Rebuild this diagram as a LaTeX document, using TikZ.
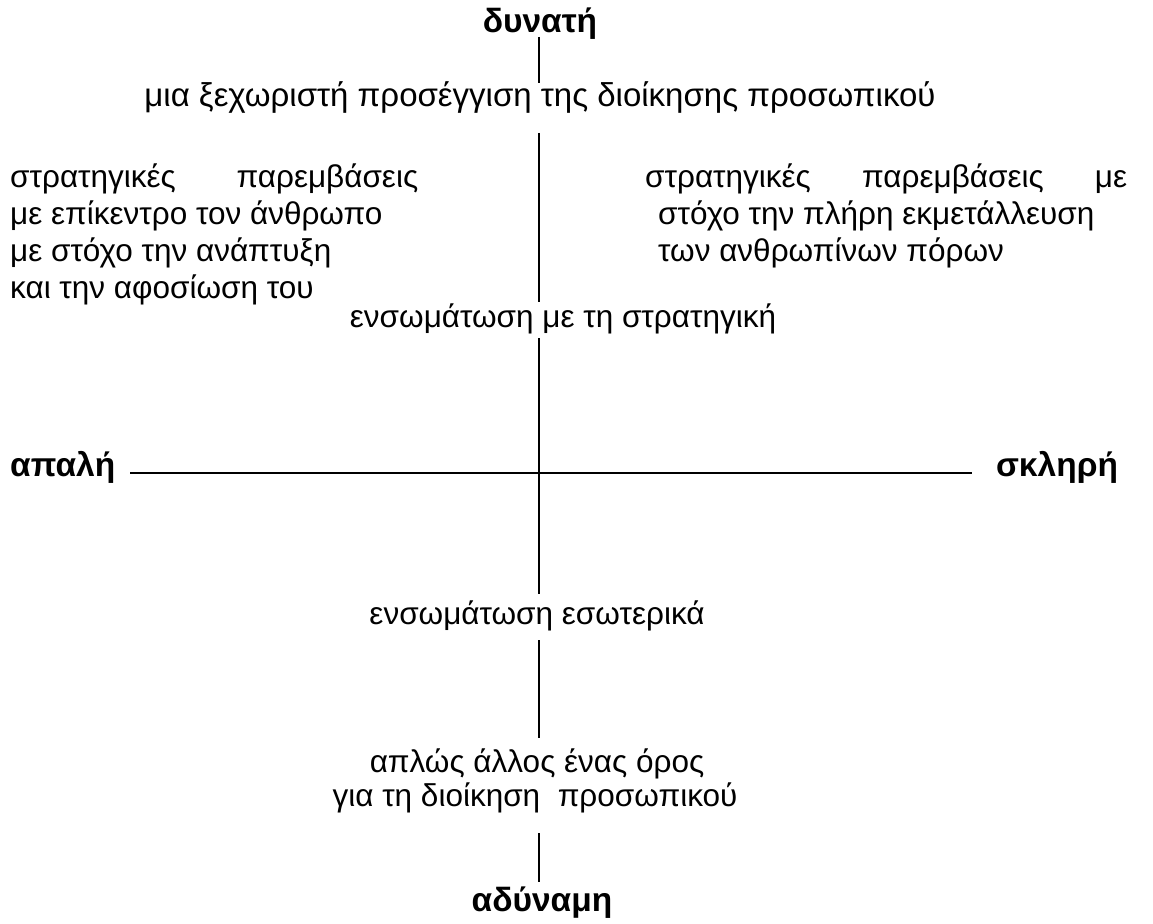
\documentclass[tikz,border=0pt]{standalone}
\usepackage{fontspec}
\setmainfont{Liberation Sans}
\begin{document}
\begin{tikzpicture}[x=1pt,y=-1pt,
  txt/.style={inner sep=0pt,font=\fontsize{31.5}{38}\selectfont},
  big/.style={inner sep=0pt,font=\fontsize{33}{38}\selectfont},
  bold/.style={inner sep=0pt,font=\fontsize{33.5}{38}\selectfont\bfseries},
  axis/.style={line width=1.6pt,black}]
\useasboundingbox (0,0) rectangle (1153,923);
% labels
\node[bold,anchor=base] (dyn) at (540,33) {δυνατή};
\node[big,anchor=base] (mia) at (540,107) {μια ξεχωριστή προσέγγιση της διοίκησης προσωπικού};
\node[txt,anchor=base] (strat) at (563,327) {ενσωμάτωση με τη στρατηγική};
\node[txt,anchor=base] (eso) at (537,624) {ενσωμάτωση εσωτερικά};
\node[txt,anchor=base] (apl1) at (537,772) {απλώς άλλος ένας όρος};
\node[txt,anchor=base] (apl2) at (535,806) {για τη διοίκηση\ \ προσωπικού};
\node[bold,anchor=base] (adyn) at (542,911) {αδύναμη};
\node[bold,anchor=base west] (apali) at (10,476) {απαλή};
\node[bold,anchor=base] (skl) at (1057,476) {σκληρή};
% left block
\node[txt,anchor=base west] (l1) at (10,187) {\makebox[408pt][s]{στρατηγικές\hfill παρεμβάσεις}};
\node[txt,anchor=base west] (l2) at (10,224) {με επίκεντρο τον άνθρωπο};
\node[txt,anchor=base west] (l3) at (10,261) {με στόχο την ανάπτυξη};
\node[txt,anchor=base west] (l4) at (10,298) {και την αφοσίωση του};
% right block
\node[txt,anchor=base west] (r1) at (645,187) {\makebox[482pt][s]{στρατηγικές\hfill παρεμβάσεις\hfill με}};
\node[txt,anchor=base west] (r2) at (658,224) {στόχο την πλήρη εκμετάλλευση};
\node[txt,anchor=base west] (r3) at (658,261) {των ανθρωπίνων πόρων};
% axis coordinates
\coordinate (v1a) at (539,37);  \coordinate (v1b) at (539,83);
\coordinate (v2a) at (539,133); \coordinate (v2b) at (539,302);
\coordinate (v3a) at (539,338); \coordinate (v3b) at (539,594);
\coordinate (v4a) at (539,640); \coordinate (v4b) at (539,738);
\coordinate (v5a) at (539,833); \coordinate (v5b) at (539,882);
\coordinate (ha) at (130,473);  \coordinate (hb) at (972,473);
\draw[axis] (v1a) -- (v1b);
\draw[axis] (v2a) -- (v2b);
\draw[axis] (v3a) -- (v3b);
\draw[axis] (v4a) -- (v4b);
\draw[axis] (v5a) -- (v5b);
\draw[axis] (ha) -- (hb);
\end{tikzpicture}
\end{document}
